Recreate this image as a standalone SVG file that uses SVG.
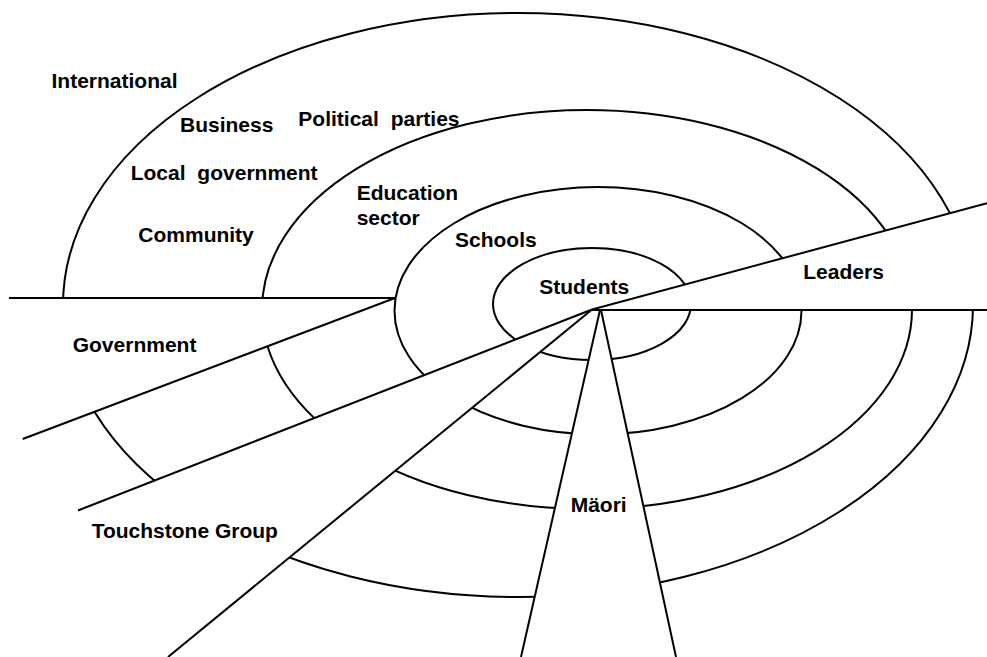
<svg xmlns="http://www.w3.org/2000/svg" width="987" height="657" viewBox="0 0 987 657">
  <style>
    .ring { fill: none; stroke: #000; stroke-width: 2; }
    .spoke { fill: none; stroke: #000; stroke-width: 2; stroke-linecap: butt; }
    .lbl { font-family: "Liberation Sans", Arial, sans-serif; font-size: 21px; font-weight: bold; fill: #000; }
    .wide { word-spacing: 6px; }
  </style>
  <defs>
    <!-- areas where the rings are interrupted by the wedges -->
    <mask id="wedge-cut" maskUnits="userSpaceOnUse" x="0" y="0" width="987" height="657">
      <rect x="0" y="0" width="987" height="657" fill="#fff"/>
      <!-- Leaders wedge -->
      <polygon points="592,309.5 1000,199.8 1000,310" fill="#000"/>
      <!-- gap between left baseline and Government wedge -->
      <polygon points="395,298 -10,298 -10,451.4" fill="#000"/>
      <!-- Touchstone Group wedge -->
      <polygon points="592,309.5 -10,546 -10,805" fill="#000"/>
      <!-- Maori wedge -->
      <polygon points="600.5,309 511.2,700 685.3,700" fill="#000"/>
    </mask>
  </defs>

  <rect x="0" y="0" width="987" height="657" fill="#fff"/>

  <!-- concentric rings -->
  <g id="rings" mask="url(#wedge-cut)">
    <g id="ring-outer"><ellipse class="ring" cx="518" cy="305" rx="455" ry="292"/></g>
    <g id="ring-education"><ellipse class="ring" cx="587" cy="309.5" rx="325" ry="199.5"/></g>
    <g id="ring-schools"><ellipse class="ring" cx="598" cy="310.7" rx="203.5" ry="123.7"/></g>
    <g id="ring-students"><ellipse class="ring" cx="592" cy="304" rx="99" ry="56"/></g>
  </g>

  <!-- spokes and baselines -->
  <g id="connectors">
    <line class="spoke" x1="9" y1="298" x2="395" y2="298"/>
    <line class="spoke" x1="395" y1="298" x2="22.7" y2="439"/>
    <line class="spoke" x1="592" y1="309.5" x2="78" y2="510.5"/>
    <line class="spoke" x1="592" y1="309.5" x2="168" y2="657"/>
    <line class="spoke" x1="592" y1="309.5" x2="987" y2="203.3"/>
    <line class="spoke" x1="592" y1="310" x2="987" y2="310"/>
    <line class="spoke" x1="600" y1="310" x2="521" y2="657"/>
    <line class="spoke" x1="601" y1="310" x2="676" y2="657"/>
  </g>

  <!-- labels -->
  <g id="label-international"><text class="lbl" x="51.5" y="88.3">International</text></g>
  <g id="label-business"><text class="lbl" x="180" y="131.7">Business</text></g>
  <g id="label-political"><text class="lbl wide" x="298.3" y="126">Political parties</text></g>
  <g id="label-local"><text class="lbl wide" x="130.7" y="180">Local government</text></g>
  <g id="label-community"><text class="lbl" x="138.3" y="241.7">Community</text></g>
  <g id="label-education"><text class="lbl" x="356.7" y="200">Education<tspan x="356.7" y="225.3">sector</tspan></text></g>
  <g id="label-schools"><text class="lbl" x="455" y="247.3">Schools</text></g>
  <g id="label-students"><text class="lbl" x="539.3" y="294">Students</text></g>
  <g id="label-leaders"><text class="lbl" x="803.3" y="279.3">Leaders</text></g>
  <g id="label-government"><text class="lbl" x="72.7" y="351.7">Government</text></g>
  <g id="label-touchstone"><text class="lbl" x="91.7" y="538.3">Touchstone Group</text></g>
  <g id="label-maori"><text class="lbl" x="570.7" y="511.7">Mäori</text></g>
</svg>
